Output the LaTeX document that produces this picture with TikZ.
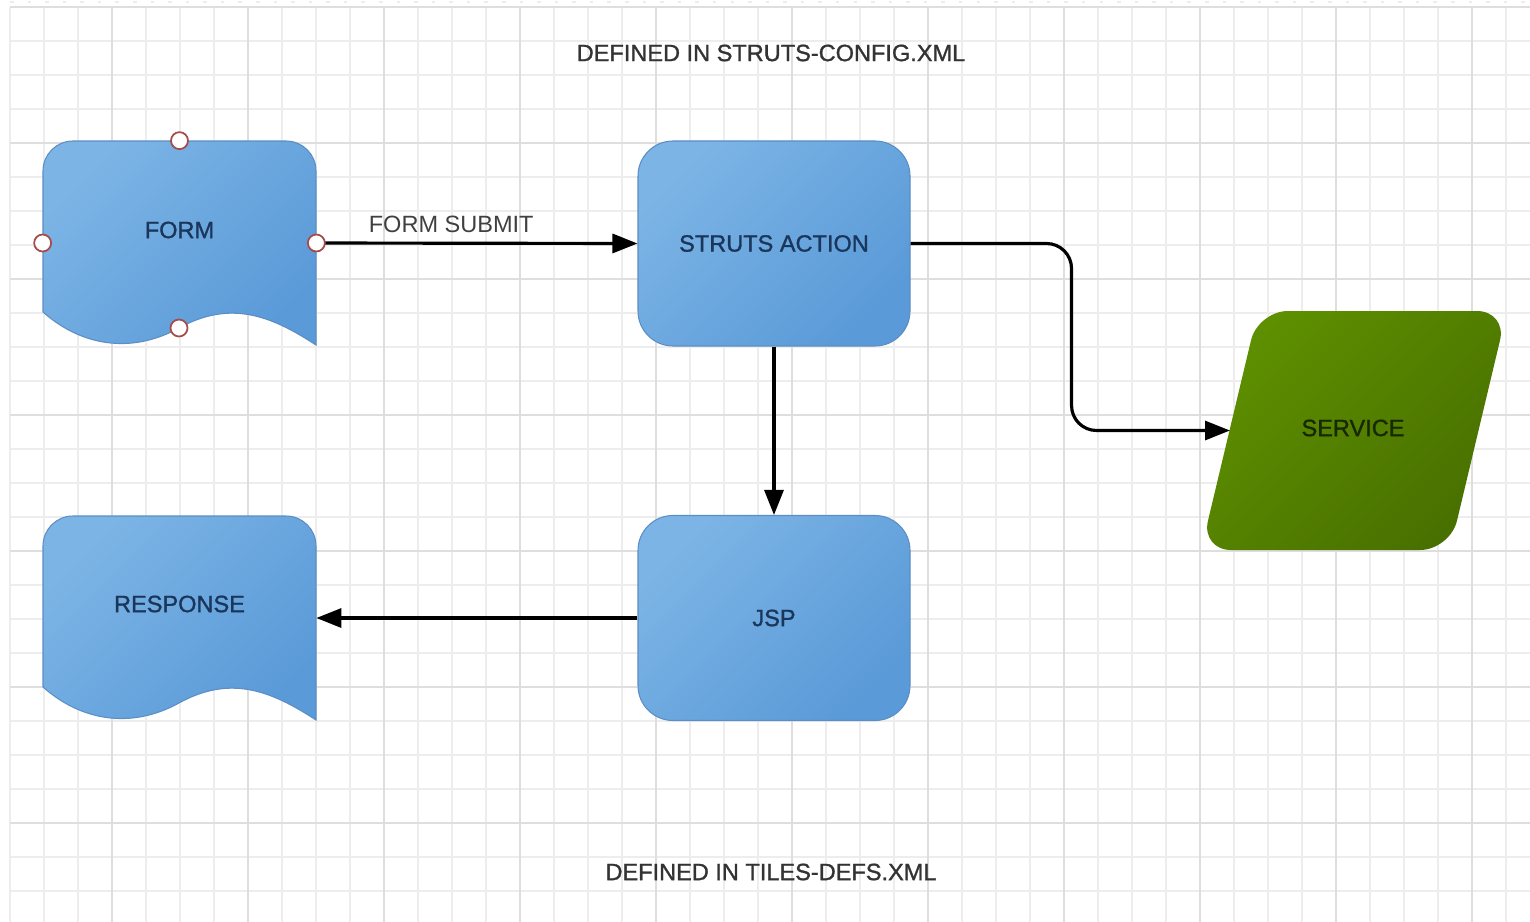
\documentclass[tikz,border=0pt]{standalone}
\usepackage{fontspec}
\setmainfont{Liberation Sans}
\newfontfamily\boldish{Liberation Sans}[FakeBold=1.2]
\usetikzlibrary{arrows.meta}

\definecolor{gridminor}{RGB}{237,237,237}
\definecolor{gridmajor}{RGB}{222,222,222}
\definecolor{bluelight}{RGB}{124,180,229}
\definecolor{bluedark}{RGB}{90,154,216}
\definecolor{blueedge}{RGB}{92,142,196}
\definecolor{bluetext}{RGB}{26,54,90}
\definecolor{greenlight}{RGB}{94,143,0}
\definecolor{greendark}{RGB}{72,112,0}
\definecolor{greentext}{RGB}{24,40,0}
\definecolor{handle}{RGB}{165,75,75}

\newcommand{\labelfont}{\fontsize{13.4}{16}\selectfont}
\newcommand{\namefont}{\boldish\fontsize{13.4}{16}\selectfont}

\tikzset{
  gridline/.style={gridminor, line width=1pt},
  gridbold/.style={gridmajor, line width=1.2pt},
  docshape/.style={draw=blueedge, line width=.6pt, top color=bluelight, bottom color=bluedark, shading angle=45},
  docnode/.style={minimum width=54.6mm, minimum height=40.8mm, inner sep=0pt},
  box/.style={rectangle, rounded corners=7mm, draw=blueedge, line width=.6pt,
    top color=bluelight, bottom color=bluedark, shading angle=45,
    minimum width=54.4mm, minimum height=41mm, text=bluetext, font=\namefont},
  serviceshape/.style={rounded corners=6mm, top color=greenlight, bottom color=greendark, shading angle=45},
  arrow/.style={line width=1.8pt, -{Triangle[length=5mm, width=3.8mm]}},
  handledot/.style={circle, draw=handle, fill=white, line width=1pt, minimum size=3.4mm, inner sep=0pt}
}

\begin{document}
\begin{tikzpicture}[x=0.2mm, y=-0.2mm]
\useasboundingbox (0,0) rectangle (1530,922);
\fill[white] (0,0) rectangle (1530,922);

% grid
\foreach \k in {0,...,44}
  \draw[gridline] ({10+34*\k},7) -- ({10+34*\k},922);
\foreach \j in {0,...,26}
  \draw[gridline] (10,{7+34*\j}) -- (1530,{7+34*\j});
\foreach \k in {3,7,...,43}
  \draw[gridbold] ({10+34*\k},7) -- ({10+34*\k},922);
\foreach \j in {0,4,...,24}
  \draw[gridbold] (10,{7+34*\j}) -- (1530,{7+34*\j});
\draw[gridminor, line width=1pt, dash pattern=on 2pt off 8pt] (10,2) -- (1530,2);

% titles
\node (strutsconfig) [text=black!80, font=\namefont] at (771,53) {DEFINED IN STRUTS-CONFIG.XML};
\node (tilesdefs) [text=black!80, font=\namefont] at (771,872) {DEFINED IN TILES-DEFS.XML};

% document shapes
\foreach \dy in {0,375}
  \path[docshape, shift={(0,\dy)}] (43,312) -- (43,171)
    .. controls (43,154.4) and (56.4,141) .. (73,141) -- (286,141)
    .. controls (302.6,141) and (316,154.4) .. (316,171) -- (316,345)
    .. controls (270,315) and (230,300) .. (179,328)
    .. controls (130,355) and (80,345) .. (43,312) -- cycle;

\node (form) [docnode] at (179.5,243) {};
\node (response) [docnode] at (179.5,618) {};
\node (formtext) [text=bluetext, font=\namefont] at ([yshift=2.6mm]form.center) {FORM};
\node (responsetext) [text=bluetext, font=\namefont] at ([yshift=2.8mm]response.center) {RESPONSE};

% boxes
\node (action) [box] at (774,243.5) {STRUTS ACTION};
\node (jsp) [box] at (774,618) {JSP};

% service parallelogram
\path[serviceshape] (1258,311) -- (1507,311) -- (1450,550) -- (1201,550) -- cycle;
\node (service) [text=greentext, font=\namefont] at (1353,428) {SERVICE};
\coordinate (servicein) at (1230,430.5);

% connectors
\draw[arrow] (form.east) -- (action.west)
  node[pos=.42, above=2pt, text=black!75, font=\labelfont] {FORM SUBMIT};
\draw[arrow, rounded corners=5mm] (action.east) -- ++(161,0) |- (servicein);
\draw[arrow] (action.south) -- (jsp.north);
\draw[arrow] (jsp.west) -- (response.east);

% handles
\node (handletop) [handledot] at (form.north) {};
\node (handleleft) [handledot] at (form.west) {};
\node (handleright) [handledot] at (form.east) {};
\node (handlebottom) [handledot] at (179,328) {};

\end{tikzpicture}
\end{document}
